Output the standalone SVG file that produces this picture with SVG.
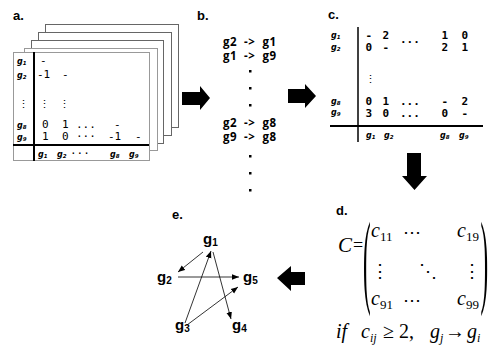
<svg xmlns="http://www.w3.org/2000/svg" width="496" height="347" viewBox="0 0 496 347">
<style>
.lbl{font-family:"Liberation Sans",Arial,sans-serif;font-weight:bold;font-size:13px;fill:#000}
.mono{font-family:"DejaVu Sans Mono","Liberation Mono",monospace;font-size:11px;fill:#000}
.monob{font-family:"DejaVu Sans Mono","Liberation Mono",monospace;font-size:11px;font-weight:bold;fill:#000}
.gl{font-family:"DejaVu Sans",Verdana,sans-serif;font-size:8px;font-weight:bold;font-style:italic;fill:#000}
.gs{font-size:5.5px}
.bt{font-family:"Open Sans","Liberation Sans",sans-serif;font-weight:bold;font-size:11.5px;fill:#000}
.frm{fill:#fff;stroke:#666;stroke-width:1}
.frm2{fill:#fff;stroke:#999;stroke-width:1}
.ser{font-family:"Liberation Serif","Times New Roman",serif;font-style:italic;fill:#000}
.serr{font-family:"Liberation Serif","Times New Roman",serif;fill:#000}
.gn{font-family:"Liberation Sans",Arial,sans-serif;font-weight:bold;font-size:15px;fill:#000}
.edge{stroke:#000;stroke-width:0.8;fill:none;marker-end:url(#ah)}
</style>
<defs>
<marker id="ah" viewBox="0 0 10 10" refX="10" refY="5" markerWidth="7" markerHeight="7" orient="auto" markerUnits="userSpaceOnUse">
<path d="M0,1 L10,5 L0,9 z" fill="#000"/>
</marker>
</defs>

<!-- Panel a -->
<g id="panel-a">
<text class="lbl" x="13" y="20">a.</text>
<rect class="frm" x="45.5" y="24.5" width="133" height="103"/>
<rect class="frm" x="38.5" y="32.5" width="133" height="103"/>
<rect class="frm" x="31.5" y="40.5" width="132" height="103"/>
<rect class="frm2" x="24.5" y="48.5" width="133" height="102"/>
<rect class="frm2" x="13.5" y="52.5" width="136" height="108"/>
<line x1="34" y1="52" x2="34" y2="161" stroke="#000" stroke-width="2"/>
<line x1="13" y1="145" x2="149" y2="145" stroke="#000" stroke-width="2"/>
<text class="gl" x="17" y="64">g<tspan class="gs" dy="1">1</tspan></text>
<text class="gl" x="17" y="78">g<tspan class="gs" dy="1">2</tspan></text>
<text class="mono" x="18" y="108" font-size="13">⋮</text>
<text class="gl" x="17" y="128">g<tspan class="gs" dy="1">8</tspan></text>
<text class="gl" x="17" y="140">g<tspan class="gs" dy="1">9</tspan></text>
<text class="mono" x="40" y="64">-</text>
<text class="mono" x="37" y="78">-1</text>
<text class="mono" x="62" y="78">-</text>
<text class="mono" x="39" y="108" font-size="13">⋮</text>
<text class="mono" x="59" y="108" font-size="13">⋮</text>
<text class="mono" x="42" y="128">0</text>
<text class="mono" x="62" y="128">1</text>
<text class="mono" x="76" y="128" font-size="9">...</text>
<text class="mono" x="114" y="128">-</text>
<text class="mono" x="42" y="140">1</text>
<text class="mono" x="62" y="140">0</text>
<text class="mono" x="76" y="140" font-size="9">···</text>
<text class="mono" x="108" y="140">-1</text>
<text class="mono" x="135" y="140">-</text>
<text class="gl" x="38" y="157">g<tspan class="gs" dy="1">1</tspan></text>
<text class="gl" x="57" y="157">g<tspan class="gs" dy="1">2</tspan></text>
<text class="mono" x="70" y="157" font-size="9">···</text>
<text class="gl" x="110" y="157">g<tspan class="gs" dy="1">8</tspan></text>
<text class="gl" x="129" y="157">g<tspan class="gs" dy="1">9</tspan></text>
</g>

<!-- Panel b -->
<g id="panel-b">
<text class="lbl" x="197" y="20">b.</text>
<text class="bt" x="223" y="46" textLength="53" lengthAdjust="spacing" xml:space="preserve">g2  -&gt;  g1</text>
<text class="bt" x="223" y="60" textLength="53" lengthAdjust="spacing" xml:space="preserve">g1  -&gt;  g9</text>
<rect x="249" y="70" width="2.5" height="2.5"/>
<rect x="249" y="87" width="2.5" height="2.5"/>
<rect x="249" y="104" width="2.5" height="2.5"/>
<text class="bt" x="223" y="127" textLength="53" lengthAdjust="spacing" xml:space="preserve">g2  -&gt;  g8</text>
<text class="bt" x="223" y="141" textLength="53" lengthAdjust="spacing" xml:space="preserve">g9  -&gt;  g8</text>
<rect x="249" y="155" width="2.5" height="2.5"/>
<rect x="249" y="172" width="2.5" height="2.5"/>
<rect x="249" y="189" width="2.5" height="2.5"/>
</g>

<!-- Panel c -->
<g id="panel-c">
<text class="lbl" x="328" y="19">c.</text>
<line x1="358" y1="27" x2="358" y2="142" stroke="#000" stroke-width="1.5"/>
<line x1="330" y1="126" x2="483" y2="126" stroke="#000" stroke-width="2"/>
<text class="gl" x="331" y="38">g<tspan class="gs" dy="1">1</tspan></text>
<text class="gl" x="331" y="50">g<tspan class="gs" dy="1">2</tspan></text>
<text class="gl" x="331" y="104">g<tspan class="gs" dy="1">8</tspan></text>
<text class="gl" x="331" y="115">g<tspan class="gs" dy="1">9</tspan></text>
<text class="monob" x="365.5" y="39">-</text>
<text class="monob" x="382.5" y="39">2</text>
<text class="monob" x="400" y="43" font-size="10">...</text>
<text class="monob" x="441.5" y="39">1</text>
<text class="monob" x="461.5" y="39">0</text>
<text class="monob" x="365.5" y="51">0</text>
<text class="monob" x="382.5" y="51">-</text>
<text class="monob" x="441.5" y="51">2</text>
<text class="monob" x="461.5" y="51">1</text>
<text class="mono" x="365" y="83" font-size="12">⋮</text>
<text class="monob" x="365.5" y="105">0</text>
<text class="monob" x="382.5" y="105">1</text>
<text class="monob" x="400" y="105" font-size="10">...</text>
<text class="monob" x="441.5" y="105">-</text>
<text class="monob" x="461.5" y="105">2</text>
<text class="monob" x="365.5" y="117">3</text>
<text class="monob" x="382.5" y="117">0</text>
<text class="monob" x="400" y="117" font-size="10">...</text>
<text class="monob" x="441.5" y="117">0</text>
<text class="monob" x="461.5" y="117">-</text>
<text class="gl" x="366" y="138">g<tspan class="gs" dy="1">1</tspan></text>
<text class="gl" x="384" y="138">g<tspan class="gs" dy="1">2</tspan></text>
<text class="gl" x="440" y="138">g<tspan class="gs" dy="1">8</tspan></text>
<text class="gl" x="459" y="138">g<tspan class="gs" dy="1">9</tspan></text>
</g>

<!-- Panel d -->
<g id="panel-d">
<text class="lbl" x="336" y="215">d.</text>
<text class="ser" x="338" y="252" font-size="21">C</text>
<text class="serr" x="353" y="251" font-size="18">=</text>
<text class="serr" font-size="20" transform="translate(363,294) scale(1.15,5.2)">(</text>
<text class="serr" font-size="20" transform="translate(480.5,294) scale(1.15,5.2)">)</text>
<text class="ser" x="371" y="237" font-size="20">c<tspan font-style="normal" font-size="13" dy="4">11</tspan></text>
<text class="serr" x="403" y="238" font-size="18">⋯</text>
<text class="ser" x="457" y="237" font-size="20">c<tspan font-style="normal" font-size="13" dy="4">19</tspan></text>
<text class="serr" x="371" y="277" font-size="18">⋮</text>
<text class="serr" x="419" y="277" font-size="18">⋱</text>
<text class="serr" x="463" y="277" font-size="18">⋮</text>
<text class="ser" x="371" y="305" font-size="20">c<tspan font-style="normal" font-size="13" dy="4">91</tspan></text>
<text class="serr" x="403" y="306" font-size="18">⋯</text>
<text class="ser" x="457" y="305" font-size="20">c<tspan font-style="normal" font-size="13" dy="4">99</tspan></text>
<text class="ser" x="336" y="338" font-size="20">if</text>
<text class="ser" x="361" y="338" font-size="20">c<tspan font-size="12" dy="4">ij</tspan></text>
<text class="serr" x="383" y="338" font-size="20">≥ 2,</text>
<text class="ser" x="430" y="338" font-size="20">g<tspan font-size="12" dy="4">j</tspan></text>
<text class="serr" x="445" y="338" font-size="20">→</text>
<text class="ser" x="467" y="338" font-size="20">g<tspan font-size="12" dy="4">i</tspan></text>
</g>

<!-- Panel e -->
<g id="panel-e-label"><text class="lbl" x="172" y="219">e.</text></g>
<g id="node-g1"><text class="gn" x="203" y="244">g<tspan font-size="10" dy="2">1</tspan></text></g>
<g id="node-g2"><text class="gn" x="157" y="282">g<tspan font-size="10" dy="2">2</tspan></text></g>
<g id="node-g5"><text class="gn" x="243" y="282">g<tspan font-size="10" dy="2">5</tspan></text></g>
<g id="node-g3"><text class="gn" x="175" y="330">g<tspan font-size="10" dy="2">3</tspan></text></g>
<g id="node-g4"><text class="gn" x="232" y="330">g<tspan font-size="10" dy="2">4</tspan></text></g>
<g id="connectors">
<line class="edge" x1="203" y1="252" x2="178" y2="272"/>
<line class="edge" x1="178" y1="277" x2="239" y2="277"/>
<line class="edge" x1="185" y1="323" x2="211" y2="251"/>
<line class="edge" x1="213" y1="252" x2="231" y2="319"/>
<line class="edge" x1="187" y1="325" x2="238" y2="287"/>
</g>

<!-- Block arrows -->
<g id="arrows">
<polygon points="182,92 200,92 200,86 210,98 200,110 200,105 182,105"/>
<polygon points="288,89 305,89 305,84 316,96 305,108 305,103 288,103"/>
<polygon points="407,153 421,153 421,176 427,176 414.5,190 402,176 407,176"/>
<polygon points="305,272 291,272 291,266 277,278 291,291 291,285 305,285"/>
</g>
</svg>
